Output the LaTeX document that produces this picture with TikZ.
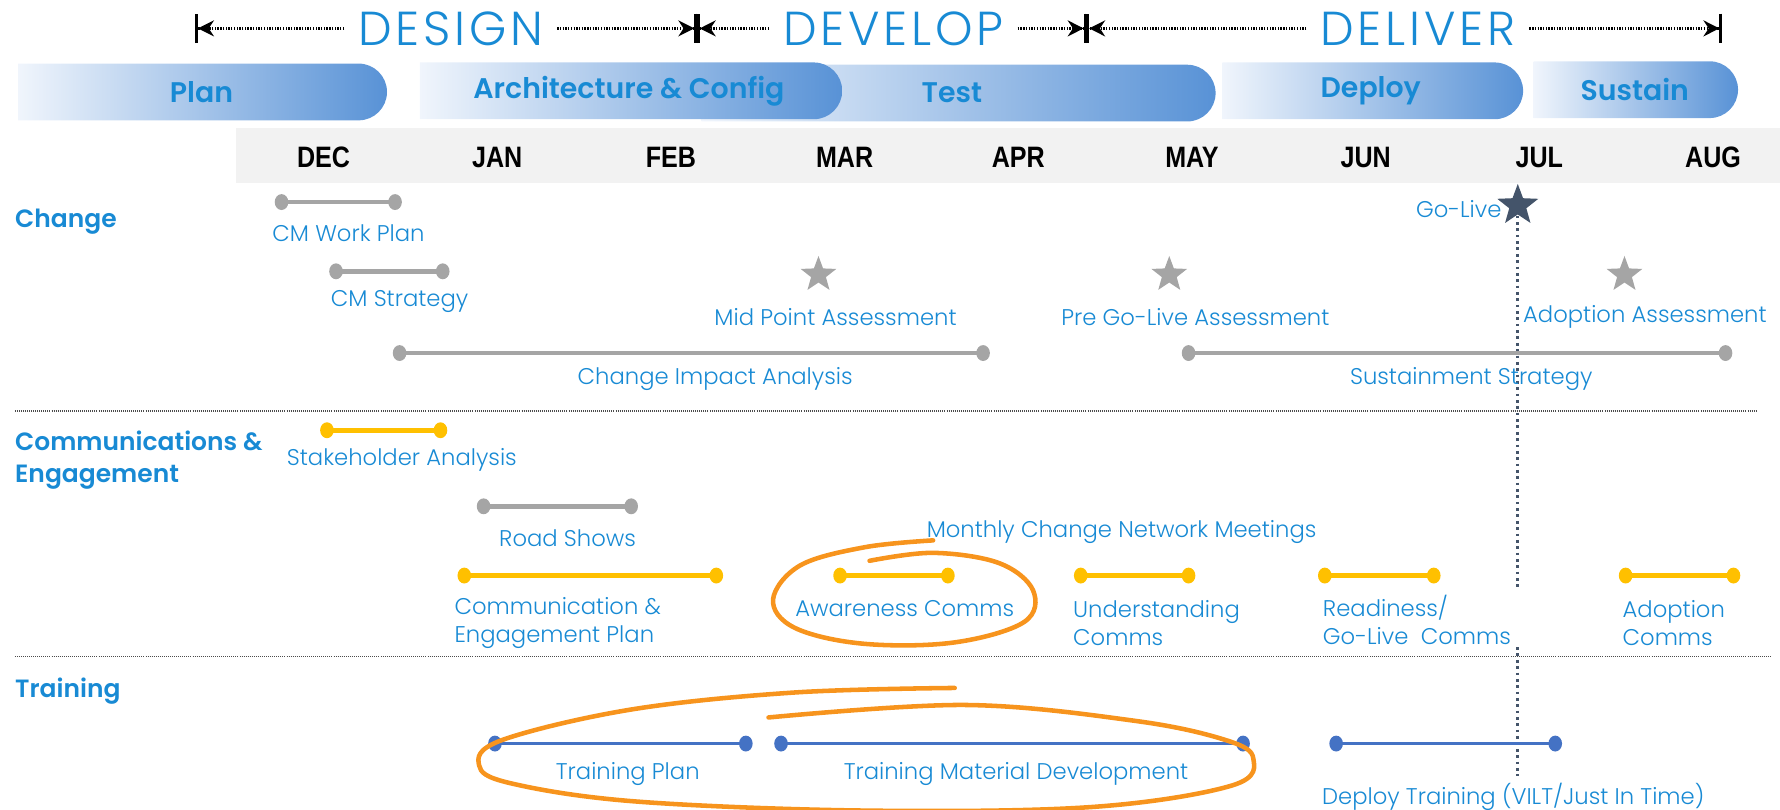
\documentclass[tikz,border=0pt]{standalone}
\usepackage{fontspec}
\setmainfont{Poppins}[UprightFont=* Light, BoldFont=* SemiBold]
\newfontfamily\thinfont{Poppins Light}[LetterSpace=8]
\newfontfamily\monthfont{Liberation Sans}[FakeStretch=0.85]
\usetikzlibrary{arrows.meta,shapes.geometric,shapes.misc,positioning}

\definecolor{txtblue}{RGB}{24,138,212}
\definecolor{tlgray}{RGB}{165,165,165}
\definecolor{tlyellow}{RGB}{255,192,0}
\definecolor{tlblue}{RGB}{68,114,196}
\definecolor{tldark}{RGB}{68,84,106}
\definecolor{hilite}{RGB}{247,148,29}
\definecolor{band}{RGB}{242,242,242}
\definecolor{phl}{RGB}{240,245,252}
\definecolor{phr}{RGB}{88,146,214}

\tikzset{
  lbl/.style={text=txtblue, font=\fontsize{10}{12.5}\selectfont, inner sep=1pt},
  rowhead/.style={text=txtblue, font=\fontsize{11}{14}\selectfont\bfseries, anchor=west, align=left, inner sep=0pt},
  phasetitle/.style={text=txtblue, font=\fontsize{21}{21}\thinfont, inner xsep=6pt},
  span/.style={line width=1.2pt, dash pattern=on 0.6pt off 0.6pt, -{Stealth[length=7pt,width=7pt]Bar[width=13pt]}},
  phase/.style={rounded rectangle, rounded rectangle left arc=none, minimum height=25pt, inner sep=0pt,
    left color=phl, right color=phr, text=txtblue, font=\fontsize{12.5}{12.5}\selectfont\bfseries},
  month/.style={font=\fontsize{13}{13}\monthfont\bfseries},
  gdot/.style={ellipse, fill=tlgray, minimum width=6pt, minimum height=7pt, inner sep=0pt},
  ydot/.style={gdot, fill=tlyellow},
  bdot/.style={gdot, fill=tlblue},
  gline/.style={draw=tlgray, line width=2pt},
  yline/.style={draw=tlyellow, line width=2pt},
  bline/.style={draw=tlblue, line width=1.5pt},
  mstar/.style={star, star points=5, star point ratio=2.4, fill=tlgray, minimum size=16.5pt, inner sep=0pt},
  sep/.style={draw=black!70, line width=0.5pt, dash pattern=on 0.4pt off 0.5pt},
  golink/.style={draw=tldark, line width=1.3pt, dash pattern=on 1.2pt off 1.6pt},
  circled/.style={draw=hilite, line width=2pt, line cap=round}
}

\begin{document}
\begin{tikzpicture}[x=0.5pt,y=-0.5pt]
  \useasboundingbox (0,0) rectangle (1568,713);

  % phases
  \coordinate (b0) at (172,25);
  \coordinate (b1) at (614,25);
  \coordinate (b2) at (957,25);
  \coordinate (b3) at (1517,25);
  \node[phasetitle] (design) at (397,25) {DESIGN};
  \node[phasetitle] (develop) at (787,25) {DEVELOP};
  \node[phasetitle] (deliver) at (1249,25) {DELIVER};
  \draw[span] (design) -- (b0);
  \draw[span] (design) -- (b1);
  \draw[span] (develop) -- (b1);
  \draw[span] (develop) -- (b2);
  \draw[span] (deliver) -- (b2);
  \draw[span] (deliver) -- (b3);

  \node[phase, minimum width=162.5pt] (plan) at (177.5,81) {Plan};
  \node[phase, minimum width=226.5pt] (test) at (843.5,82) {\hspace*{-5pt}Test};
  \node[phase, minimum width=186pt] (arch) at (554,80) {Architecture \& Config};
  \node[phase, minimum width=132.5pt] (deploy) at (1207.5,80) {Deploy};
  \node[phase, minimum width=90pt] (sustain) at (1440,79) {Sustain};

  % months
  \fill[band] (208,113) rectangle (1568,161);
  \foreach \m [count=\i from 0] in {DEC,JAN,FEB,MAR,APR,MAY,JUN,JUL,AUG}
    \node[month] (m\i) at (285+153*\i,139) {\m};

  % row headers
  \node[rowhead] (hchange) at (13,195) {Change};
  \node[rowhead] (hcomms) at (13,405) {Communications \&\\Engagement};
  \node[rowhead] (htrain) at (13,609) {Training};
  \draw[sep] (13,362) -- (1548,362);
  \draw[sep] (13,578) -- (1560,578);

  % go-live
  \coordinate (gl1) at (1337,517);
  \coordinate (gl2) at (1337,570);
  \coordinate (gl3) at (1337,684);
  \draw[golink] (1337,190) -- (gl1);
  \draw[golink] (gl2) -- (gl3);
  \node[mstar, fill=tldark, minimum size=19pt] (golive) at (1337,181) {};
  \node[lbl, anchor=east] (golivet) at (1325,184) {Go-Live};

  % change
  \node[gdot] (cwpA) at (248,178) {};
  \node[gdot] (cwpB) at (348,178) {};
  \draw[gline] (cwpA.center) -- (cwpB.center);
  \node[lbl] (cwp) at (307,205) {CM Work Plan};

  \node[gdot] (cmsA) at (296,239) {};
  \node[gdot] (cmsB) at (390,239) {};
  \draw[gline] (cmsA.center) -- (cmsB.center);
  \node[lbl] (cms) at (352,266) {CM Strategy};

  \node[mstar] (midstar) at (721,242) {};
  \node[lbl] (mid) at (736,279) {Mid Point Assessment};
  \node[mstar] (prestar) at (1030,242) {};
  \node[lbl] (pre) at (1053,279) {Pre Go-Live Assessment};
  \node[mstar] (adpstar) at (1431,242) {};
  \node[lbl] (adp) at (1449,279) {Adoption Assessment};

  \node[gdot] (ciaA) at (352,311) {};
  \node[gdot] (ciaB) at (866,311) {};
  \draw[gline] (ciaA.center) -- (ciaB.center);
  \node[lbl] (cia) at (630,334) {Change Impact Analysis};

  \node[gdot] (susA) at (1047,311) {};
  \node[gdot] (susB) at (1520,311) {};
  \draw[gline] (susA.center) -- (susB.center);
  \node[lbl] (sus) at (1296,334) {Sustainment Strategy};

  % communications
  \node[ydot] (stkA) at (288,379) {};
  \node[ydot] (stkB) at (388,379) {};
  \draw[yline] (stkA.center) -- (stkB.center);
  \node[lbl] (stk) at (354,405) {Stakeholder Analysis};

  \node[gdot] (rdsA) at (426,446) {};
  \node[gdot] (rdsB) at (556,446) {};
  \draw[gline] (rdsA.center) -- (rdsB.center);
  \node[lbl] (rds) at (500,474) {Road Shows};

  \node[lbl] (mcn) at (988,469) {Monthly Change Network Meetings};

  \node[ydot] (cepA) at (409,507) {};
  \node[ydot] (cepB) at (631,507) {};
  \draw[yline] (cepA.center) -- (cepB.center);
  \node[lbl, anchor=west, align=left] (cep) at (398,549) {Communication \&\\Engagement Plan};

  \node[ydot] (awrA) at (740,507) {};
  \node[ydot] (awrB) at (835,507) {};
  \draw[yline] (awrA.center) -- (awrB.center);
  \node[lbl] (awr) at (797,536) {Awareness Comms};

  \node[ydot] (undA) at (952,507) {};
  \node[ydot] (undB) at (1047,507) {};
  \draw[yline] (undA.center) -- (undB.center);
  \node[lbl, anchor=west, align=left] (und) at (943,549) {Understanding\\Comms};

  \node[ydot] (rdyA) at (1167,507) {};
  \node[ydot] (rdyB) at (1263,507) {};
  \draw[yline] (rdyA.center) -- (rdyB.center);
  \node[lbl, anchor=west, align=left] (rdy) at (1163,546) {Readiness/\\Go-Live~ Comms};

  \node[ydot] (adcA) at (1432,507) {};
  \node[ydot] (adcB) at (1527,507) {};
  \draw[yline] (adcA.center) -- (adcB.center);
  \node[lbl, anchor=west, align=left] (adc) at (1427,549) {Adoption\\Comms};

  % training
  \node[bdot] (tplA) at (436,655) {};
  \node[bdot] (tplB) at (657,655) {};
  \draw[bline] (tplA.center) -- (tplB.center);
  \node[lbl] (tpl) at (553,682) {Training Plan};

  \node[bdot] (tmdA) at (688,655) {};
  \node[bdot] (tmdB) at (1095,655) {};
  \draw[bline] (tmdA.center) -- (tmdB.center);
  \node[lbl] (tmd) at (895,682) {Training Material Development};

  \node[bdot] (dtrA) at (1177,655) {};
  \node[bdot] (dtrB) at (1370,655) {};
  \draw[bline] (dtrA.center) -- (dtrB.center);
  \node[lbl] (dtr) at (1333,702) {Deploy Training (VILT/Just In Time)};

  % hand drawn rings
  \draw[circled] plot[smooth, tension=0.6] coordinates {(766,494) (822,487) (880,496) (910,520)
    (902,548) (840,566) (760,567) (700,553) (681,528) (705,498) (762,482) (822,476)};
  \draw[circled] plot[smooth, tension=0.6] coordinates {(677,632) (850,621) (1000,635) (1080,652)
    (1104,668) (1085,692) (960,711) (760,714) (560,706) (450,690) (422,674) (442,652)
    (556,625) (700,610) (841,606)};
\end{tikzpicture}
\end{document}
